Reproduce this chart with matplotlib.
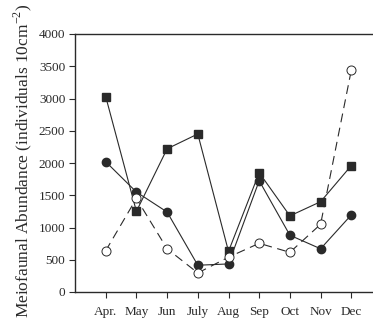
import matplotlib
matplotlib.use('Agg')
import matplotlib.pyplot as plt

months = ['Apr.', 'May', 'Jun', 'July', 'Aug', 'Sep', 'Oct', 'Nov', 'Dec']

# filled squares
sq_vals = [3030, 1250, 2220, 2450, 630, 1850, 1180, 1400, 1960]
# filled circles
fc_vals = [2020, 1550, 1240, 415, 435, 1725, 880, 670, 1195]
# open circles (dashed)
oc_vals = [640, 1450, 670, 295, 540, 755, 615, 1050, 3440]

plt.rcParams['font.family'] = ['Liberation Serif', 'DejaVu Serif']
plt.rcParams['mathtext.fontset'] = 'custom'
plt.rcParams['mathtext.rm'] = 'Liberation Serif'

fig = plt.figure(figsize=(3.73, 3.2), dpi=100)
ax = fig.add_axes([75/373, 1 - 292/320, 307/373, 258/320])

x = list(range(len(months)))
ink = '#2a2a2a'

ax.plot(x, sq_vals, color=ink, lw=0.8, marker='s', ms=5.5, mfc=ink, mec=ink, zorder=3)
ax.plot(x, fc_vals, color=ink, lw=0.8, marker='o', ms=6, mfc=ink, mec=ink, zorder=3)
ax.plot(x, oc_vals, color=ink, lw=0.8, ls=(0, (8, 5)), marker='o', ms=6.5,
        mfc='white', mec=ink, mew=0.7, zorder=4)

ax.set_xlim(-1, 9)
ax.set_ylim(0, 4000)
ax.set_yticks(range(0, 4001, 500))
ax.set_xticks(x)
ax.set_xticklabels(months)
ax.tick_params(direction='out', length=4, width=0.8, labelsize=9.5, colors=ink, pad=3)
ax.tick_params(axis='x', pad=6)
for s in ax.spines.values():
    s.set_linewidth(1.0)
    s.set_color(ink)

fig.text(23/373, 1 - 161/320, 'Meiofaunal Abundance (individuals 10cm$^{-2}$)', rotation=90,
         ha='center', va='center', fontsize=12.5, color=ink)

fig.savefig('out.png', dpi=100)
